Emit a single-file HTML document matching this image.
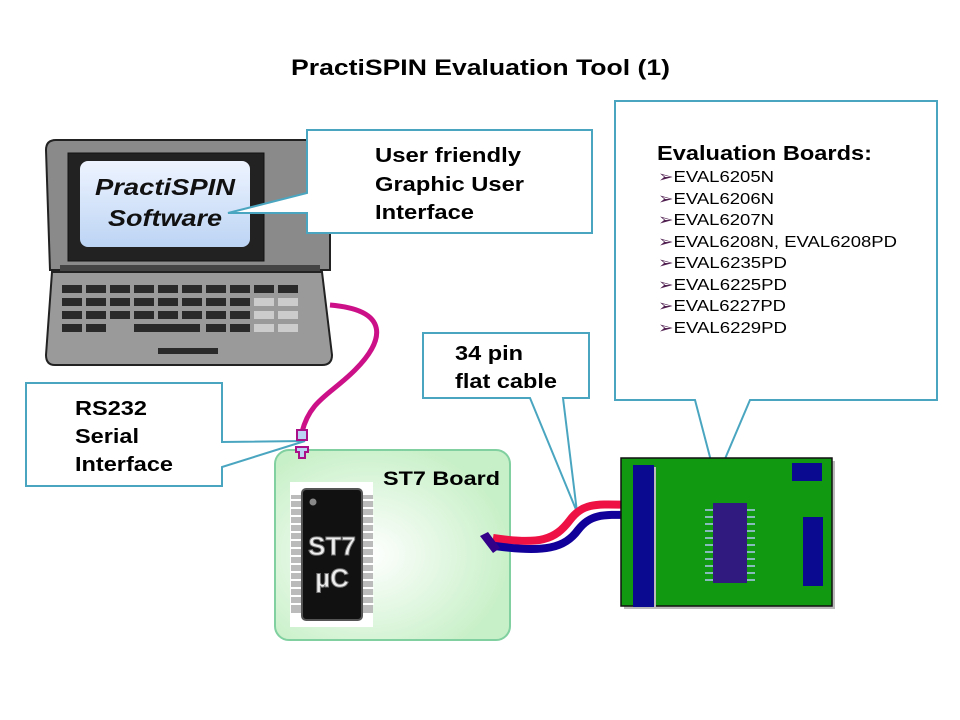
<!DOCTYPE html>
<html><head><meta charset="utf-8"><style>
html,body{margin:0;padding:0;background:#fff}
svg{display:block}
text{font-family:"Liberation Sans",Arial,sans-serif}
</style></head><body>
<svg width="960" height="720" viewBox="0 0 960 720" xmlns="http://www.w3.org/2000/svg">
<defs>
<radialGradient id="bg" cx="0.4" cy="0.55" r="0.6"><stop offset="0" stop-color="#ffffff"/><stop offset="1" stop-color="#c8f0c8"/></radialGradient>
<linearGradient id="scr" x1="0" y1="0" x2="0" y2="1"><stop offset="0" stop-color="#eef4ff"/><stop offset="1" stop-color="#bcd4f4"/></linearGradient>
</defs>
<text x="291" y="75" textLength="379" lengthAdjust="spacingAndGlyphs" font-size="22" font-weight="bold" fill="#000">PractiSPIN Evaluation Tool (1)</text>

<!-- Laptop -->
<path d="M330,305 C390,310 385,340 355,370 C330,395 310,400 302,432" fill="none" stroke="#cc1188" stroke-width="5"/>
<path d="M56,140 L320,140 Q330,140 330,150 L330,270 L50,270 L46,150 Q46,140 56,140Z" fill="#8a8a8a" stroke="#222" stroke-width="2"/>
<rect x="68" y="153" width="196" height="108" fill="#222" stroke="#111"/>
<rect x="80" y="161" width="170" height="86" rx="8" fill="url(#scr)"/>
<rect x="60" y="265" width="260" height="12" fill="#444"/>
<path d="M52,272 L322,272 L332,355 Q332,365 322,365 L55,365 Q46,365 46,355Z" fill="#9a9a9a" stroke="#222" stroke-width="2"/>
<g fill="#2a2a2a">
<rect x="62" y="285" width="20" height="8"/><rect x="86" y="285" width="20" height="8"/><rect x="110" y="285" width="20" height="8"/><rect x="134" y="285" width="20" height="8"/><rect x="158" y="285" width="20" height="8"/><rect x="182" y="285" width="20" height="8"/><rect x="206" y="285" width="20" height="8"/><rect x="230" y="285" width="20" height="8"/><rect x="254" y="285" width="20" height="8"/><rect x="278" y="285" width="20" height="8"/>
<rect x="62" y="298" width="20" height="8"/><rect x="86" y="298" width="20" height="8"/><rect x="110" y="298" width="20" height="8"/><rect x="134" y="298" width="20" height="8"/><rect x="158" y="298" width="20" height="8"/><rect x="182" y="298" width="20" height="8"/><rect x="206" y="298" width="20" height="8"/><rect x="230" y="298" width="20" height="8"/>
<rect x="62" y="311" width="20" height="8"/><rect x="86" y="311" width="20" height="8"/><rect x="110" y="311" width="20" height="8"/><rect x="134" y="311" width="20" height="8"/><rect x="158" y="311" width="20" height="8"/><rect x="182" y="311" width="20" height="8"/><rect x="206" y="311" width="20" height="8"/><rect x="230" y="311" width="20" height="8"/>
<rect x="62" y="324" width="20" height="8"/><rect x="86" y="324" width="20" height="8"/><rect x="134" y="324" width="66" height="8"/><rect x="206" y="324" width="20" height="8"/><rect x="230" y="324" width="20" height="8"/>
<rect x="158" y="348" width="60" height="6"/>
</g>
<g fill="#ccc"><rect x="254" y="298" width="20" height="8"/><rect x="278" y="298" width="20" height="8"/><rect x="254" y="311" width="20" height="8"/><rect x="278" y="311" width="20" height="8"/><rect x="254" y="324" width="20" height="8"/><rect x="278" y="324" width="20" height="8"/></g>
<text x="95" y="195" textLength="140" lengthAdjust="spacingAndGlyphs" font-size="23" font-weight="bold" font-style="italic" fill="#111">PractiSPIN</text>
<text x="108" y="226" textLength="114" lengthAdjust="spacingAndGlyphs" font-size="23" font-weight="bold" font-style="italic" fill="#111">Software</text>

<!-- callout 1 -->
<path d="M307,130 L592,130 L592,233 L307,233 L307,213 L228,213 L307,193Z" fill="#fff" stroke="#4aa6c0" stroke-width="2"/>
<g font-size="20" font-weight="bold" fill="#000">
<text x="375" y="162" textLength="146" lengthAdjust="spacingAndGlyphs">User friendly</text>
<text x="375" y="191" textLength="149" lengthAdjust="spacingAndGlyphs">Graphic User</text>
<text x="375" y="219" textLength="99" lengthAdjust="spacingAndGlyphs">Interface</text>
</g>

<!-- Eval callout -->
<path d="M615,101 L937,101 L937,400 L750,400 L716,480 L695,400 L615,400Z" fill="#fff" stroke="#4aa6c0" stroke-width="2"/>
<text x="657" y="160" textLength="215" lengthAdjust="spacingAndGlyphs" font-size="20" font-weight="bold" fill="#000">Evaluation Boards:</text>
<g font-size="16" fill="#000">
<text x="658" y="182" textLength="116" lengthAdjust="spacingAndGlyphs"><tspan fill="#502050">➢</tspan>EVAL6205N</text>
<text x="658" y="204" textLength="116" lengthAdjust="spacingAndGlyphs"><tspan fill="#502050">➢</tspan>EVAL6206N</text>
<text x="658" y="225" textLength="116" lengthAdjust="spacingAndGlyphs"><tspan fill="#502050">➢</tspan>EVAL6207N</text>
<text x="658" y="247" textLength="239" lengthAdjust="spacingAndGlyphs"><tspan fill="#502050">➢</tspan>EVAL6208N, EVAL6208PD</text>
<text x="658" y="268" textLength="129" lengthAdjust="spacingAndGlyphs"><tspan fill="#502050">➢</tspan>EVAL6235PD</text>
<text x="658" y="290" textLength="129" lengthAdjust="spacingAndGlyphs"><tspan fill="#502050">➢</tspan>EVAL6225PD</text>
<text x="658" y="311" textLength="128" lengthAdjust="spacingAndGlyphs"><tspan fill="#502050">➢</tspan>EVAL6227PD</text>
<text x="658" y="333" textLength="129" lengthAdjust="spacingAndGlyphs"><tspan fill="#502050">➢</tspan>EVAL6229PD</text>
</g>

<!-- RS232 callout -->
<path d="M26,383 L222,383 L222,442 L305,441 L222,467 L222,486 L26,486Z" fill="#fff" stroke="#4aa6c0" stroke-width="2"/>
<g font-size="20" font-weight="bold" fill="#000">
<text x="75" y="415" textLength="72" lengthAdjust="spacingAndGlyphs">RS232</text>
<text x="75" y="443" textLength="64" lengthAdjust="spacingAndGlyphs">Serial</text>
<text x="75" y="471" textLength="98" lengthAdjust="spacingAndGlyphs">Interface</text>
</g>

<!-- 34 pin callout -->
<path d="M423,333 L589,333 L589,398 L563,398 L577,512 L530,398 L423,398Z" fill="#fff" stroke="#4aa6c0" stroke-width="2"/>
<g font-size="20" font-weight="bold" fill="#000">
<text x="455" y="360" textLength="68" lengthAdjust="spacingAndGlyphs">34 pin</text>
<text x="455" y="388" textLength="102" lengthAdjust="spacingAndGlyphs">flat cable</text>
</g>

<!-- ST7 board -->
<rect x="275" y="450" width="235" height="190" rx="14" fill="url(#bg)" stroke="#80d0a0" stroke-width="2"/>
<path d="M297,430 h10 v10 h-10Z" fill="#bcd4f4" stroke="#aa1188" stroke-width="2"/>
<path d="M296,447 h12 v5 h-3 v6 h-6 v-6 h-3Z" fill="#bcd4f4" stroke="#aa1188" stroke-width="2"/>
<text x="383" y="485" textLength="117" lengthAdjust="spacingAndGlyphs" font-size="19" font-weight="bold" fill="#000">ST7 Board</text>
<rect x="290" y="482" width="83" height="145" fill="#fff"/>
<g fill="#bbb">
<rect x="291" y="495" width="12" height="118"/><rect x="361" y="495" width="12" height="118"/></g>
<g stroke="#fff" stroke-width="2"><path d="M290,500h84M290,508h84M290,516h84M290,524h84M290,532h84M290,540h84M290,548h84M290,556h84M290,564h84M290,572h84M290,580h84M290,588h84M290,596h84M290,604h84"/></g>
<rect x="302" y="489" width="60" height="131" rx="4" fill="#111" stroke="#555" stroke-width="2"/>
<circle cx="313" cy="502" r="3.5" fill="#888"/>
<text x="332" y="555" text-anchor="middle" font-size="26" font-weight="bold" fill="#eee" stroke="#777" stroke-width="1">ST7</text>
<text x="332" y="587" text-anchor="middle" font-size="26" font-weight="bold" fill="#eee" stroke="#777" stroke-width="1">µC</text>

<!-- flat cable -->
<path d="M493,538 C540,545 555,540 570,520 C585,500 600,505 645,505" fill="none" stroke="#ee1144" stroke-width="8"/>
<path d="M495,546 C545,553 565,548 578,530 C592,512 605,515 645,515" fill="none" stroke="#110099" stroke-width="8"/>
<path d="M480,536 l8,-4 l12,16 l-7,5Z" fill="#330088"/>
<path d="M640,500 l8,-2 l6,14 l-7,10Z" fill="#330088"/>

<!-- eval board -->
<rect x="624" y="461" width="211" height="148" fill="#bbb"/>
<rect x="621" y="458" width="211" height="148" fill="#119911" stroke="#111" stroke-width="1.5"/>
<rect x="635" y="467" width="21" height="142" fill="#bbb"/>
<rect x="633" y="465" width="21" height="142" fill="#0a0a90"/>
<rect x="792" y="463" width="30" height="18" fill="#0a0a90"/>
<rect x="803" y="517" width="20" height="69" fill="#0a0a90"/>
<g stroke="#88bbbb" stroke-width="2"><path d="M705,510h50M705,517h50M705,524h50M705,531h50M705,538h50M705,545h50M705,552h50M705,559h50M705,566h50M705,573h50M705,580h50"/></g>
<rect x="713" y="503" width="34" height="80" fill="#301a80"/>
</svg>
</body></html>
